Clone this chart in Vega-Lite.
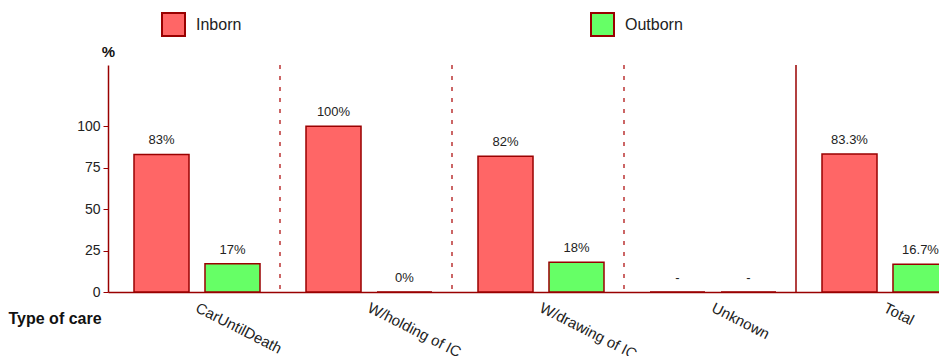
{
  "$schema": "https://vega.github.io/schema/vega-lite/v6.json",
  "autosize": "none",
  "width": 831,
  "height": 227,
  "padding": {"left": 108, "top": 65, "right": 0, "bottom": 64},
  "config": {
    "font": "Liberation Sans",
    "view": {"stroke": null}
  },
  "datasets": {
    "bars": [
      {"care": "CarUntilDeath", "origin": "Inborn", "value": 83, "label": "83%"},
      {"care": "CarUntilDeath", "origin": "Outborn", "value": 17, "label": "17%"},
      {"care": "W/holding of IC", "origin": "Inborn", "value": 100, "label": "100%"},
      {"care": "W/holding of IC", "origin": "Outborn", "value": 0, "label": "0%"},
      {"care": "W/drawing of IC", "origin": "Inborn", "value": 82, "label": "82%"},
      {"care": "W/drawing of IC", "origin": "Outborn", "value": 18, "label": "18%"},
      {"care": "Unknown", "origin": "Inborn", "value": 0, "label": "-"},
      {"care": "Unknown", "origin": "Outborn", "value": 0, "label": "-"},
      {"care": "Total", "origin": "Inborn", "value": 83.3, "label": "83.3%"},
      {"care": "Total", "origin": "Outborn", "value": 16.7, "label": "16.7%"}
    ],
    "seps": [
      {"care": "W/holding of IC", "kind": "dotted"},
      {"care": "W/drawing of IC", "kind": "dotted"},
      {"care": "Unknown", "kind": "dotted"},
      {"care": "Total", "kind": "solid"}
    ]
  },
  "layer": [
    {
      "data": {"name": "seps"},
      "transform": [{"filter": "datum.kind === 'dotted'"}],
      "mark": {"type": "rule", "color": "#AA0000", "strokeWidth": 1.2, "strokeDash": [4, 7]},
      "encoding": {
        "x": {"field": "care", "type": "nominal", "bandPosition": 0,
              "scale": {"domain": ["CarUntilDeath", "W/holding of IC", "W/drawing of IC", "Unknown", "Total"], "range": [0, 860], "paddingInner": 0, "paddingOuter": 0}}
      }
    },
    {
      "data": {"name": "seps"},
      "transform": [{"filter": "datum.kind === 'solid'"}],
      "mark": {"type": "rule", "color": "#990000", "strokeWidth": 1.5},
      "encoding": {
        "x": {"field": "care", "type": "nominal", "bandPosition": 0}
      }
    },
    {
      "data": {"name": "bars"},
      "mark": {"type": "bar", "stroke": "#990000", "strokeWidth": 1.5},
      "encoding": {
        "x": {"field": "care", "type": "nominal",
              "axis": {"title": "Type of care", "labelAngle": 27, "labelAlign": "left", "labelBaseline": "top", "labelFontSize": 15, "labelColor": "#222", "labelPadding": 8, "labelOffset": 6, "labelLimit": 300, "ticks": false, "domainColor": "#990000", "domainWidth": 1.5, "titleX": -100, "titleY": 26, "titleAlign": "left", "titleBaseline": "middle", "titleAngle": 0, "titleFontSize": 16, "titleFontWeight": "bold", "titleColor": "#111"}},
        "xOffset": {"field": "origin", "type": "nominal", "scale": {"range": [26, 152], "paddingInner": 0.225, "paddingOuter": 0}},
        "y": {"field": "value", "type": "quantitative",
              "scale": {"domain": [0, 137], "nice": false},
              "axis": {"values": [0, 25, 50, 75, 100], "grid": false, "domainColor": "#990000", "domainWidth": 1.5, "tickColor": "#990000", "tickSize": 5, "labelFontSize": 14, "labelColor": "#222", "labelPadding": 3, "title": "%", "titleAngle": 0, "titleX": 0, "titleY": -14, "titleAlign": "center", "titleBaseline": "middle", "titleFontSize": 15, "titleFontWeight": "bold", "titleColor": "#111"}},
        "color": {"field": "origin", "type": "nominal",
                  "scale": {"domain": ["Inborn", "Outborn"], "range": ["#FF6666", "#66FF66"]},
                  "legend": {"title": null, "orient": "none", "legendX": 53, "legendY": -53, "direction": "horizontal", "columns": 2, "columnPadding": 345, "symbolType": "square", "symbolSize": 529, "symbolStrokeColor": "#990000", "symbolStrokeWidth": 2, "symbolOpacity": 1, "labelFontSize": 16, "labelColor": "#222", "labelOffset": 10}}
      }
    },
    {
      "data": {"name": "bars"},
      "mark": {"type": "text", "baseline": "alphabetic", "dy": -10, "fontSize": 13, "color": "#222"},
      "encoding": {
        "x": {"field": "care", "type": "nominal"},
        "xOffset": {"field": "origin", "type": "nominal"},
        "y": {"field": "value", "type": "quantitative"},
        "text": {"field": "label"}
      }
    }
  ]
}
